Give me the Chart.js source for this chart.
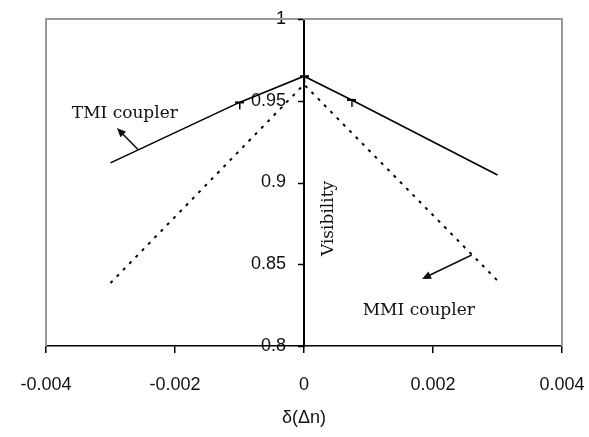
<!DOCTYPE html>
<html>
<head>
<meta charset="utf-8">
<script src="https://cdn.jsdelivr.net/npm/chart.js@4"></script>
<style>
  html, body { margin: 0; padding: 0; background: #fff; }
  #wrap { width: 589px; height: 437px; }
</style>
</head>
<body>
<div id="wrap"><canvas id="chart"></canvas></div>
<script>
// data
const xTicks = [-0.004, -0.002, 0, 0.002, 0.004];
const xTickLabels = ['-0.004', '-0.002', '0', '0.002', '0.004'];
const yTicks = [0.8, 0.85, 0.9, 0.95, 1];
const yTickLabels = ['0.8', '0.85', '0.9', '0.95', '1'];

const tmiX = [-0.003, -0.001, 0, 0.00074, 0.003];
const tmiY = [0.912, 0.949, 0.965, 0.9505, 0.9046];
const tmiMarked = [false, true, true, true, false];

const mmiX = [-0.003, 0, 0.003];
const mmiY = [0.8385, 0.960, 0.840];

// annotations: [x, y] in data units
const tmiLabel = { text: 'TMI coupler', at: [-0.0036, 0.9394] };
const tmiArrow = { from: [-0.00257, 0.920], to: [-0.00290, 0.9333] };
const mmiLabel = { text: 'MMI coupler', at: [0.00091, 0.819] };
const mmiArrow = { from: [0.0026, 0.8557], to: [0.00183, 0.8410] };
const yTitle = { text: 'Visibility', at: [0.00038, 0.878] };

const SERIF = '"DejaVu Serif", serif';
const SANS = '"Liberation Sans", Arial, sans-serif';

// T-shaped error marker
function makeTMarker() {
  const c = document.createElement('canvas');
  c.width = 9; c.height = 16;
  const g = c.getContext('2d');
  g.fillStyle = '#000';
  g.fillRect(0, 7, 9, 2);
  g.fillRect(4, 7, 1.5, 8);
  return c;
}
const tMarker = makeTMarker();

const pts = (xs, ys) => xs.map((x, i) => ({ x, y: ys[i] }));

const frame = {
  id: 'frame',
  beforeDatasetsDraw(chart) {
    const { ctx, chartArea: a } = chart;
    ctx.save();
    ctx.strokeStyle = '#9a9a9a';
    ctx.lineWidth = 2;
    ctx.beginPath();
    ctx.moveTo(a.left, a.bottom);
    ctx.lineTo(a.left, a.top);
    ctx.lineTo(a.right, a.top);
    ctx.lineTo(a.right, a.bottom);
    ctx.stroke();
    ctx.restore();
  }
};

function arrow(ctx, x1, y1, x2, y2) {
  const ang = Math.atan2(y2 - y1, x2 - x1);
  const L = 9, W = 4;
  ctx.beginPath();
  ctx.moveTo(x1, y1);
  ctx.lineTo(x2 - Math.cos(ang) * L * 0.8, y2 - Math.sin(ang) * L * 0.8);
  ctx.stroke();
  ctx.beginPath();
  ctx.moveTo(x2, y2);
  ctx.lineTo(x2 - Math.cos(ang) * L + Math.sin(ang) * W, y2 - Math.sin(ang) * L - Math.cos(ang) * W);
  ctx.lineTo(x2 - Math.cos(ang) * L - Math.sin(ang) * W, y2 - Math.sin(ang) * L + Math.cos(ang) * W);
  ctx.closePath();
  ctx.fill();
}

const notes = {
  id: 'notes',
  afterDraw(chart) {
    const { ctx } = chart;
    const sx = chart.scales.x, sy = chart.scales.y;
    const px = p => [sx.getPixelForValue(p[0]), sy.getPixelForValue(p[1])];
    ctx.save();
    ctx.fillStyle = '#111';
    ctx.strokeStyle = '#111';
    ctx.lineWidth = 1.6;
    ctx.font = '17px ' + SERIF;
    ctx.textBaseline = 'alphabetic';
    ctx.textAlign = 'left';
    let p = px(tmiLabel.at);
    ctx.fillText(tmiLabel.text, p[0], p[1]);
    p = px(mmiLabel.at);
    ctx.fillText(mmiLabel.text, p[0], p[1]);
    let a = px(tmiArrow.from), b = px(tmiArrow.to);
    arrow(ctx, a[0], a[1], b[0], b[1]);
    a = px(mmiArrow.from); b = px(mmiArrow.to);
    arrow(ctx, a[0], a[1], b[0], b[1]);

    // small ticks left of the centred y axis
    const x0 = sx.getPixelForValue(0);
    ctx.lineWidth = 1.5;
    ctx.strokeStyle = '#000';
    yTicks.forEach(v => {
      const y = Math.round(sy.getPixelForValue(v)) + 0.5;
      ctx.beginPath();
      ctx.moveTo(x0 - 1, y);
      ctx.lineTo(x0 - 6, y);
      ctx.stroke();
    });

    p = px(yTitle.at);
    ctx.translate(p[0], p[1]);
    ctx.rotate(-Math.PI / 2);
    ctx.textAlign = 'center';
    ctx.textBaseline = 'middle';
    ctx.font = '17px ' + SERIF;
    ctx.fillText(yTitle.text, 0, 0);
    ctx.restore();
  }
};

new Chart(document.getElementById('chart'), {
  type: 'line',
  data: {
    datasets: [
      {
        label: 'TMI coupler',
        data: pts(tmiX, tmiY),
        borderColor: '#000',
        borderWidth: 1.6,
        pointStyle: tMarker,
        pointRadius: tmiMarked.map(m => (m ? 4 : 0)),
        tension: 0
      },
      {
        label: 'MMI coupler',
        data: pts(mmiX, mmiY),
        borderColor: '#000',
        borderWidth: 2,
        borderDash: [3, 6],
        pointRadius: 0,
        tension: 0
      }
    ]
  },
  options: {
    responsive: true,
    maintainAspectRatio: false,
    animation: false,
    layout: { padding: { left: 46, right: 27, top: 19, bottom: 10 } },
    plugins: { legend: { display: false }, tooltip: { enabled: false } },
    scales: {
      x: {
        type: 'linear',
        min: -0.004,
        max: 0.004,
        afterBuildTicks: s => { s.ticks = xTicks.map(v => ({ value: v })); },
        afterFit: s => { s.paddingLeft = 0; s.paddingRight = 0; },
        ticks: {
          callback: (v) => xTickLabels[xTicks.indexOf(v)] ?? '',
          color: '#111',
          font: { family: SANS, size: 18, lineHeight: 1 },
          padding: 23,
          maxRotation: 0
        },
        grid: { drawOnChartArea: false, color: '#000', tickLength: 7, lineWidth: 1.5 },
        border: { color: '#000', width: 1.5 },
        title: {
          display: true,
          text: 'δ(Δn)',
          color: '#111',
          font: { family: SANS, size: 18, lineHeight: 1 },
          padding: { top: -8, bottom: 0 }
        }
      },
      y: {
        type: 'linear',
        min: 0.8,
        max: 1,
        position: { x: 0 },
        afterBuildTicks: s => { s.ticks = yTicks.map(v => ({ value: v })); },
        ticks: {
          // centred axis ignores tick padding, so an em space keeps labels off the line
          callback: (v) => (yTickLabels[yTicks.indexOf(v)] ?? '') + '\u2003',
          color: '#111',
          font: { family: SANS, size: 18 }
        },
        grid: { drawOnChartArea: false, drawTicks: false },
        border: { color: '#000', width: 2 }
      }
    }
  },
  plugins: [frame, notes]
});
</script>
</body>
</html>
